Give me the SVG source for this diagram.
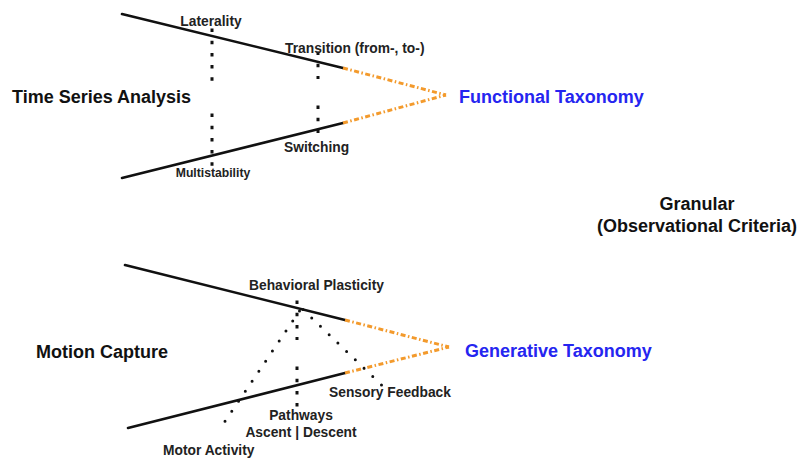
<svg xmlns="http://www.w3.org/2000/svg" width="799" height="462" viewBox="0 0 799 462">
  <style>
    .axis { stroke: #111; stroke-width: 2.6; fill: none; stroke-linecap: round; }
    .conv { stroke: #f39a2c; stroke-width: 3; fill: none; stroke-dasharray: 5 2.5 1.5 2.5; }
    .dots { stroke: #111; stroke-width: 3; fill: none; stroke-linecap: butt; stroke-dasharray: 3.5 8.7; }
    .diag { stroke: #111; stroke-width: 3; fill: none; stroke-linecap: round; stroke-dasharray: 0 12.1; }
    .title { font-family: "Liberation Sans", Arial, sans-serif; font-weight: bold; font-size: 18px; fill: #111; }
    .tax { font-family: "Liberation Sans", Arial, sans-serif; font-weight: bold; font-size: 18px; fill: #2525f0; }
    .lbl { font-family: "Liberation Sans", Arial, sans-serif; font-weight: bold; font-size: 13.8px; fill: #222; }
    .sm { font-family: "Liberation Sans", Arial, sans-serif; font-weight: bold; font-size: 12.2px; fill: #222; }
  </style>
  <rect width="799" height="462" fill="#fff"/>

  <!-- connectors: funnel edges, convergence and criterion markers -->
  <g id="connectors">
    <!-- upper funnel (time series) -->
    <path class="axis" d="M122,14 L343,68"/>
    <path class="axis" d="M122,178 L343,123"/>
    <path class="conv" d="M343,68 L446,95"/>
    <path class="conv" d="M343,123 L446,95"/>
    <path class="dots" d="M212,28.5 L212,81"/>
    <path class="dots" d="M212,113.5 L212,166"/>
    <path class="dots" d="M318,51.5 L318,79"/>
    <path class="dots" d="M318,105.5 L318,133"/>

    <!-- lower funnel (motion capture) -->
    <path class="axis" d="M125,265 L345,320"/>
    <path class="axis" d="M128,428 L345,373"/>
    <path class="conv" d="M345,320 L449,347"/>
    <path class="conv" d="M345,373 L449,347"/>
    <path class="dots" d="M297,300.5 L297,340"/>
    <path class="dots" d="M297,366.5 L297,407"/>
    <path class="diag" d="M299.5,311 L224,422.8"/>
    <path class="diag" d="M303,309.5 L381.7,385.2"/>
  </g>

  <g id="time-series">
    <text class="title" x="12" y="103">Time Series Analysis</text>
  </g>
  <g id="laterality">
    <text class="lbl" x="211" y="26" text-anchor="middle">Laterality</text>
  </g>
  <g id="transition">
    <text class="lbl" x="285" y="53">Transition (from-, to-)</text>
  </g>
  <g id="switching">
    <text class="lbl" x="284" y="152">Switching</text>
  </g>
  <g id="multistability">
    <text class="sm" x="213" y="177" text-anchor="middle">Multistability</text>
  </g>
  <g id="functional-taxonomy">
    <text class="tax" x="459" y="103">Functional Taxonomy</text>
  </g>

  <g id="granular">
    <text class="title" x="697" y="210" text-anchor="middle">Granular</text>
    <text class="title" x="697" y="232" text-anchor="middle">(Observational Criteria)</text>
  </g>

  <g id="motion-capture">
    <text class="title" x="36" y="358">Motion Capture</text>
  </g>
  <g id="behavioral-plasticity">
    <text class="lbl" x="249" y="290">Behavioral Plasticity</text>
  </g>
  <g id="sensory-feedback">
    <text class="lbl" x="329" y="397">Sensory Feedback</text>
  </g>
  <g id="pathways">
    <text class="lbl" x="301" y="420" text-anchor="middle">Pathways</text>
    <text class="lbl" x="301" y="437" text-anchor="middle">Ascent | Descent</text>
  </g>
  <g id="motor-activity">
    <text class="lbl" x="163" y="455">Motor Activity</text>
  </g>
  <g id="generative-taxonomy">
    <text class="tax" x="465" y="357">Generative Taxonomy</text>
  </g>
</svg>
